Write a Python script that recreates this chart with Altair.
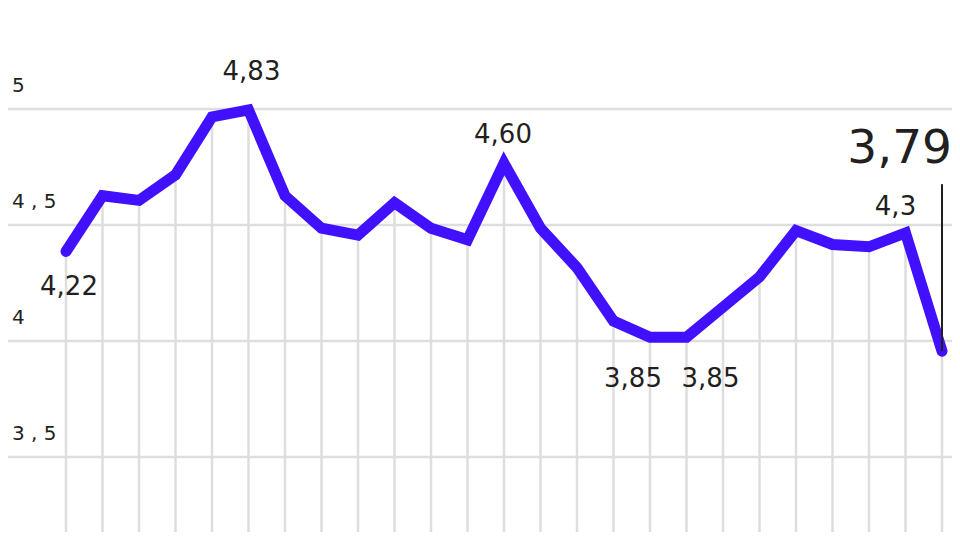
import altair as alt
import pandas as pd

# ---- data ----
values = [4.22, 4.46, 4.44, 4.55, 4.80, 4.83, 4.46, 4.32, 4.29, 4.43, 4.32, 4.27,
          4.60, 4.32, 4.15, 3.92, 3.85, 3.85, 3.98, 4.11, 4.31, 4.25, 4.24, 4.30, 3.79]
index = list(range(len(values)))

grid_values = [4.834, 4.334, 3.834, 3.334]
grid_labels = ["5", "4 , 5", "4", "3 , 5"]

label_index = [0, 5, 12, 16, 17, 23, 24]
label_text = ["4,22", "4,83", "4,60", "3,85", "3,85", "4,3", "3,79"]
annot_top = 4.51

df = pd.DataFrame({"i": index, "v": values})
grid_df = pd.DataFrame({"g": grid_values, "lab": grid_labels})
lab_df = pd.DataFrame({"i": label_index,
                       "v": [values[k] for k in label_index],
                       "t": label_text})
annot_df = pd.DataFrame({"i": [index[-1]], "top": [annot_top], "v": [values[-1]]})

W, H = 944, 524
xs = alt.Scale(domain=[-1.589, 24.274], nice=False, zero=False)
ys = alt.Scale(domain=[3.0107, 5.2693], nice=False, zero=False)

FONT = "DejaVu Sans"
INK = "#231f20"
GRID = "#dedede"
LINE = "#4010ff"

hgrid = alt.Chart(grid_df).mark_rule(color=GRID, strokeWidth=2.5).encode(
    y=alt.Y("g:Q", scale=ys, axis=None)
)

ylabels = alt.Chart(grid_df).mark_text(
    font=FONT, fontSize=20, color=INK, align="left", baseline="middle", dy=-23
).encode(
    x=alt.value(4),
    y=alt.Y("g:Q", scale=ys, axis=None),
    text="lab:N",
)

vrules = alt.Chart(df).mark_rule(color=GRID, strokeWidth=2.5).encode(
    x=alt.X("i:Q", scale=xs, axis=None),
    y=alt.Y("v:Q", scale=ys, axis=None),
    y2=alt.value(H),
)

line = alt.Chart(df).mark_line(
    color=LINE, strokeWidth=11, strokeCap="round", strokeJoin="miter"
).encode(
    x=alt.X("i:Q", scale=xs, axis=None),
    y=alt.Y("v:Q", scale=ys, axis=None),
)

annot = alt.Chart(annot_df).mark_rule(color=INK, strokeWidth=2).encode(
    x=alt.X("i:Q", scale=xs, axis=None),
    y=alt.Y("top:Q", scale=ys, axis=None),
    y2="v:Q",
)


def label_layer(k, dx, dy, size=26, align="center"):
    return alt.Chart(lab_df).transform_filter(
        alt.datum.i == label_index[k]
    ).mark_text(
        font=FONT, fontSize=size, color=INK, align=align, baseline="middle", dx=dx, dy=dy
    ).encode(
        x=alt.X("i:Q", scale=xs, axis=None),
        y=alt.Y("v:Q", scale=ys, axis=None),
        text="t:N",
    )


labels = [
    label_layer(0, 3, 36),
    label_layer(1, 3, -38),
    label_layer(2, -1, -28),
    label_layer(3, -17, 42),
    label_layer(4, 24, 42),
    label_layer(5, -10, -26),
    label_layer(6, 10, -202, size=47, align="right"),
]

chart = alt.layer(hgrid, vrules, ylabels, line, annot, *labels).properties(
    width=W, height=H, padding=0, autosize=alt.AutoSizeParams(type="none")
).configure(background="white").configure_view(strokeWidth=0, stroke="transparent")

chart.save("out.html", embed_options={"renderer": "svg", "actions": False})
